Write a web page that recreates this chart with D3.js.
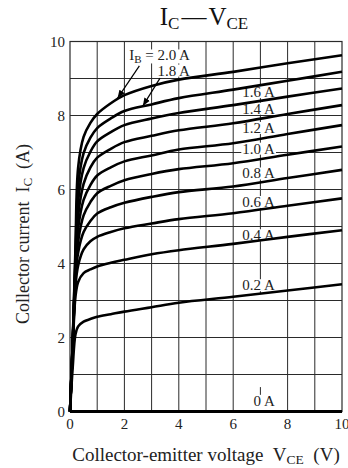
<!DOCTYPE html>
<html>
<head>
<meta charset="utf-8">
<script src="https://cdn.jsdelivr.net/npm/d3@7"></script>
<style>
  html, body { margin: 0; padding: 0; background: #fff; }
  svg { display: block; font-family: "Liberation Serif", "Times New Roman", serif; }
</style>
</head>
<body>
<svg id="chart" width="348" height="468"></svg>
<script>
// Collector-emitter voltage sample points (V)
const vce = [0, 0.1, 0.2, 0.3, 0.5, 0.75, 1, 1.5, 2, 3, 4, 6, 8, 10];

// Collector current (A) at each VCE sample, one array per base current
const ic_0_0 = [0, 0, 0, 0, 0, 0, 0, 0, 0, 0, 0, 0, 0, 0];
const ic_0_2 = [0, 1.2, 2.08, 2.3, 2.43, 2.5, 2.56, 2.63, 2.7, 2.82, 2.94, 3.1, 3.27, 3.44];
const ic_0_4 = [0, 1.7, 3.1, 3.5, 3.74, 3.84, 3.92, 4.02, 4.1, 4.25, 4.36, 4.53, 4.72, 4.9];
const ic_0_6 = [0, 1.75, 3.4, 3.95, 4.38, 4.6, 4.72, 4.85, 4.95, 5.08, 5.2, 5.36, 5.56, 5.76];
const ic_0_8 = [0, 1.8, 3.6, 4.3, 4.85, 5.15, 5.35, 5.52, 5.64, 5.8, 5.93, 6.08, 6.31, 6.53];
const ic_1_0 = [0, 1.8, 3.7, 4.6, 5.3, 5.66, 5.9, 6.1, 6.25, 6.42, 6.55, 6.71, 6.94, 7.16];
const ic_1_2 = [0, 1.8, 3.8, 4.95, 5.72, 6.12, 6.38, 6.6, 6.76, 6.92, 7.08, 7.25, 7.5, 7.74];
const ic_1_4 = [0, 1.85, 3.9, 5.3, 6.15, 6.6, 6.86, 7.1, 7.28, 7.45, 7.6, 7.79, 8.04, 8.28];
const ic_1_6 = [0, 1.85, 4.0, 5.7, 6.58, 7.02, 7.3, 7.55, 7.74, 7.92, 8.07, 8.28, 8.51, 8.73];
const ic_1_8 = [0, 1.9, 4.2, 6.1, 6.98, 7.4, 7.66, 7.92, 8.12, 8.3, 8.47, 8.7, 8.94, 9.18];
const ic_2_0 = [0, 1.9, 4.4, 6.6, 7.42, 7.8, 8.04, 8.33, 8.55, 8.8, 8.97, 9.18, 9.41, 9.63];

const curves = [ic_0_0, ic_0_2, ic_0_4, ic_0_6, ic_0_8, ic_1_0, ic_1_2, ic_1_4, ic_1_6, ic_1_8, ic_2_0];

// In-plot curve labels (stacked along VCE = 7 V) and the current each is centred on
const curveLabels = ["0 A", "0.2 A", "0.4 A", "0.6 A", "0.8 A", "1.0 A", "1.2 A", "1.4 A", "1.6 A"];
const curveLabelIc = [0.29, 3.42, 4.77, 5.67, 6.44, 7.11, 7.67, 8.19, 8.64];
const labelLeaderV = 7;
const labelRightV = 7.53;

// Arrow call-outs for the two top curves
const calloutLabels = ["2.0 A", "1.8 A"];
const calloutLabelIc = [9.63, 9.22];
const calloutRightV = 4.41;
const arrowFrom = [[2.55, 9.34], [3.31, 9.01]];
const arrowTo = [[1.75, 8.47], [2.68, 8.26]];

// Axis ticks
const xTicks = [0, 2, 4, 6, 8, 10];
const yTicks = [0, 2, 4, 6, 8, 10];
const gridStep = [0, 1, 2, 3, 4, 5, 6, 7, 8, 9, 10];

const svg = d3.select("#chart");
const x = d3.scaleLinear().domain([0, 10]).range([70, 342]);
const y = d3.scaleLinear().domain([0, 10]).range([411.5, 41.5]);

const gridColor = "#2a2a2a";

// Title
const title = svg.append("text")
  .attr("x", 204).attr("y", 25)
  .attr("text-anchor", "middle")
  .attr("font-size", 25).attr("fill", "#111");
title.append("tspan").text("I");
title.append("tspan").attr("font-size", 17).attr("dy", 4).text("C");
title.append("tspan").attr("dy", -4).attr("dx", 2).text("\u2014");
title.append("tspan").attr("dx", 2).text("V");
title.append("tspan").attr("font-size", 17).attr("dy", 4).text("CE");

// Grid
const grid = svg.append("g");
grid.selectAll("line.v")
  .data(gridStep.filter(d => d > 0 && d < 10 && d !== labelLeaderV))
  .join("line")
  .attr("x1", d => x(d)).attr("x2", d => x(d))
  .attr("y1", y(0)).attr("y2", y(10))
  .attr("stroke", gridColor).attr("stroke-width", 1);
grid.selectAll("line.h")
  .data(gridStep.filter(d => d > 0 && d < 10))
  .join("line")
  .attr("x1", x(0)).attr("x2", x(10))
  .attr("y1", d => y(d)).attr("y2", d => y(d))
  .attr("stroke", gridColor).attr("stroke-width", 1);

// The 7 V line doubles as the label leader: it runs down to the 0.2 A curve,
// plus a short tick above the 0 A label.
const interp = (arr, v) => {
  const i = d3.bisectRight(vce, v) - 1;
  const t = (v - vce[i]) / (vce[i + 1] - vce[i]);
  return arr[i] + t * (arr[i + 1] - arr[i]);
};
grid.append("line")
  .attr("x1", x(labelLeaderV)).attr("x2", x(labelLeaderV))
  .attr("y1", y(10)).attr("y2", y(interp(ic_0_2, labelLeaderV)))
  .attr("stroke", gridColor).attr("stroke-width", 1);
grid.append("line")
  .attr("x1", x(labelLeaderV)).attr("x2", x(labelLeaderV))
  .attr("y1", y(0.66)).attr("y2", y(0.45))
  .attr("stroke", gridColor).attr("stroke-width", 1);

// Frame
svg.append("rect")
  .attr("x", x(0)).attr("y", y(10))
  .attr("width", x(10) - x(0)).attr("height", y(0) - y(10))
  .attr("fill", "none").attr("stroke", gridColor).attr("stroke-width", 1.2);

// Curve labels with white backing
const labelG = svg.append("g").attr("font-size", 15).attr("fill", "#222");
function addLabel(parent, text, xr, yc, sub) {
  const t = parent.append("text")
    .attr("x", xr).attr("y", yc).attr("dy", "0.35em")
    .attr("text-anchor", "end");
  if (sub) {
    t.append("tspan").text("I");
    t.append("tspan").attr("font-size", 11).attr("dy", 3).text("B");
    t.append("tspan").attr("dy", -3).text(" = " + text);
  } else {
    t.text(text);
  }
  const bb = t.node().getBBox();
  parent.insert("rect", "text")
    .attr("x", bb.x - 1).attr("y", bb.y + 2)
    .attr("width", bb.width + 2).attr("height", bb.height - 4)
    .attr("fill", "#fff");
  return t;
}
curveLabels.forEach((lab, i) => addLabel(labelG, lab, x(labelRightV), y(curveLabelIc[i]), false));
calloutLabels.forEach((lab, i) => addLabel(labelG, lab, x(calloutRightV), y(calloutLabelIc[i]), i === 0));

// Curves
const line = d3.line()
  .x((d, i) => x(vce[i]))
  .y(d => y(d))
  .curve(d3.curveCatmullRom.alpha(0.5));
svg.append("g").selectAll("path")
  .data(curves)
  .join("path")
  .attr("d", d => line(d))
  .attr("fill", "none")
  .attr("stroke", "#000")
  .attr("stroke-width", (d, i) => i === 0 ? 3 : 2.6)
  .attr("stroke-linejoin", "round");

// Arrows
const defs = svg.append("defs");
defs.append("marker")
  .attr("id", "head")
  .attr("viewBox", "0 0 10 10")
  .attr("refX", 10).attr("refY", 5)
  .attr("markerWidth", 8).attr("markerHeight", 8)
  .attr("markerUnits", "userSpaceOnUse")
  .attr("orient", "auto")
  .append("path").attr("d", "M0,1 L10,5 L0,9 Z").attr("fill", "#000");
svg.append("g").selectAll("line")
  .data(arrowFrom.map((f, i) => [f, arrowTo[i]]))
  .join("line")
  .attr("x1", d => x(d[0][0])).attr("y1", d => y(d[0][1]))
  .attr("x2", d => x(d[1][0])).attr("y2", d => y(d[1][1]))
  .attr("stroke", "#000").attr("stroke-width", 1.2)
  .attr("marker-end", "url(#head)");

// Tick labels
const tickG = svg.append("g").attr("font-size", 15).attr("fill", "#222");
tickG.selectAll("text.x")
  .data(xTicks).join("text")
  .attr("x", d => x(d)).attr("y", 429)
  .attr("text-anchor", "middle")
  .text(d => d);
tickG.selectAll("text.y")
  .data(yTicks).join("text")
  .attr("x", x(0) - 5).attr("y", d => y(d)).attr("dy", "0.35em")
  .attr("text-anchor", "end")
  .text(d => d);

// Axis titles
const xt = svg.append("text")
  .attr("x", 206).attr("y", 461)
  .attr("text-anchor", "middle").attr("font-size", 19).attr("fill", "#222");
xt.append("tspan").text("Collector-emitter voltage\u00a0\u00a0V");
xt.append("tspan").attr("font-size", 13.5).attr("dy", 3).text("CE");
xt.append("tspan").attr("dy", -3).text("\u00a0\u00a0(V)");

const yt = svg.append("text")
  .attr("transform", "translate(29,234) rotate(-90)")
  .attr("text-anchor", "middle").attr("font-size", 18).attr("fill", "#222");
yt.append("tspan").text("Collector current\u00a0\u00a0I");
yt.append("tspan").attr("font-size", 13).attr("dy", 3).text("C");
yt.append("tspan").attr("dy", -3).text("\u00a0\u00a0(A)");
</script>
</body>
</html>
